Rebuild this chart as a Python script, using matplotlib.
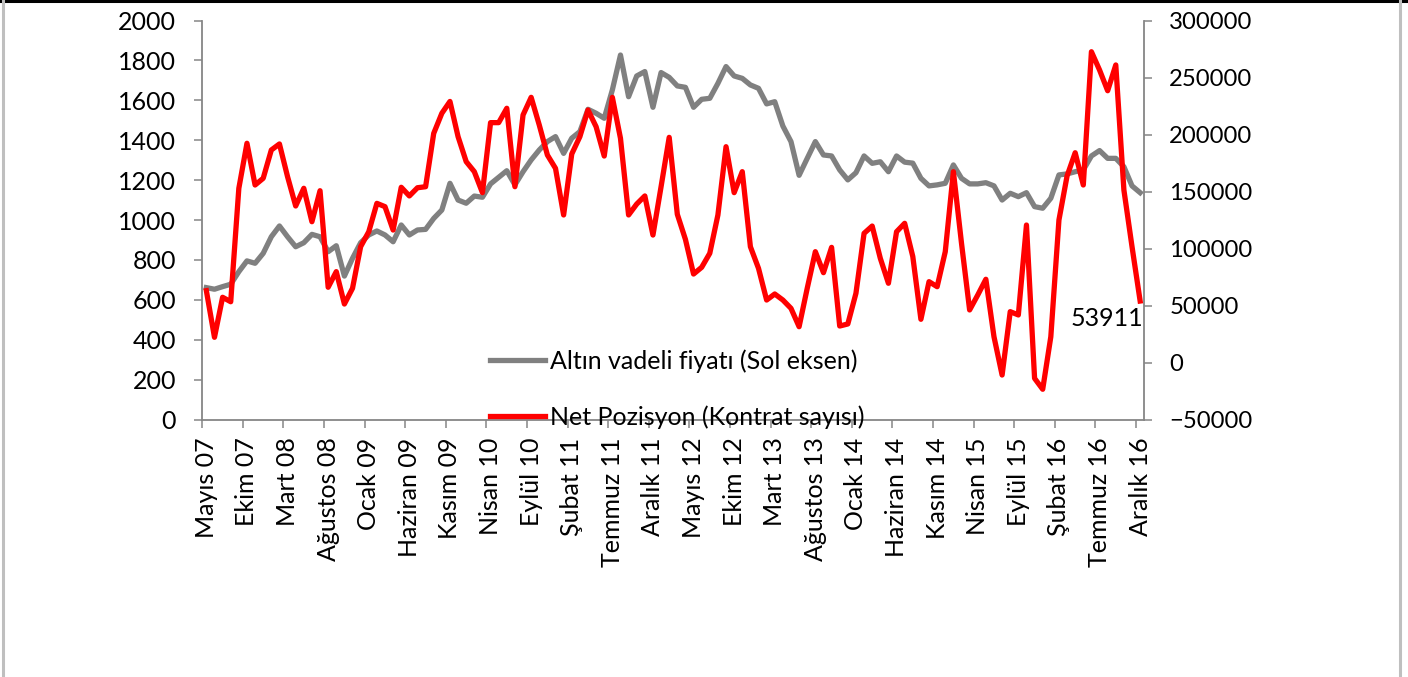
import matplotlib
matplotlib.use("Agg")
import matplotlib.pyplot as plt
from matplotlib.lines import Line2D
import numpy as np

plt.rcParams['font.family'] = ['Lato', 'DejaVu Sans']

tick_labels = ["Mayıs 07", "Ekim 07", "Mart 08", "Ağustos 08", "Ocak 09", "Haziran 09",
               "Kasım 09", "Nisan 10", "Eylül 10", "Şubat 11", "Temmuz 11", "Aralık 11",
               "Mayıs 12", "Ekim 12", "Mart 13", "Ağustos 13", "Ocak 14", "Haziran 14",
               "Kasım 14", "Nisan 15", "Eylül 15", "Şubat 16", "Temmuz 16", "Aralık 16"]

gold = [661, 653, 666, 678, 741, 795, 783, 833, 916, 970,
        916, 866, 886, 928, 916, 841, 871, 719, 808, 886,
        925, 945, 925, 891, 975, 925, 950, 953, 1008, 1050,
        1184, 1100, 1084, 1120, 1114, 1181, 1214, 1247, 1176, 1242,
        1301, 1351, 1393, 1418, 1334, 1410, 1443, 1555, 1535, 1510,
        1652, 1827, 1618, 1722, 1744, 1565, 1739, 1715, 1672, 1665,
        1565, 1605, 1610, 1685, 1769, 1722, 1710, 1677, 1660, 1582,
        1593, 1471, 1393, 1224, 1309, 1393, 1326, 1321, 1251, 1201,
        1237, 1321, 1284, 1292, 1242, 1321, 1290, 1285,
        1209, 1171, 1176, 1184, 1276, 1209, 1181, 1181, 1187, 1171,
        1100, 1134, 1117, 1137, 1067, 1059, 1109, 1226, 1231, 1242,
        1251, 1321, 1348, 1309, 1309, 1267, 1171, 1137]

net = [63000, 22100, 57200, 53300, 152800, 192300, 155700, 161600, 186400, 191700,
       163000, 137300, 152800, 123500, 150700, 66000, 79700, 51300, 65100, 101600,
       114700, 139600, 136700, 116200, 153700, 146100, 153300, 154200, 201000, 218600,
       229000, 198100, 176200, 167400, 149000, 210400, 210400, 223000, 154200, 217100,
       232600, 208300, 182000, 170300, 129400, 182900, 198100, 221500, 206800, 181100,
       232600, 196700, 129400, 139000, 146100, 111800, 154200, 197500, 130000, 108000,
       77600, 83500, 95800, 129400, 189300, 149000, 167400, 101600, 82600, 54800,
       60100, 54800, 47500, 31400, 65100, 97200, 78800, 101000, 32000, 33800,
       60700, 113300, 119700, 91400, 69500, 114700, 122100, 93000,
       37900, 70900, 66500, 97200, 167400, 104600, 46100, 59200, 73000, 22600,
       -11000, 44600, 41700, 120600, -13900, -23500, 22600, 125000, 163600, 184000,
       155700, 272600, 256600, 238400, 261000, 151300, 101600, 53911]

W, H = 1408, 677
fig = plt.figure(figsize=(W / 100, H / 100), dpi=100)
fig.patch.set_facecolor('white')

L, R, T, B = 202.3, 1144.2, 20.5, 419.5
ax = fig.add_axes([L / W, 1 - B / H, (R - L) / W, (B - T) / H])
ax2 = ax.twinx()

x = np.arange(len(gold))
axis_gray = '#868686'
fs = 18

ax.plot(x, gold, color='#808080', lw=3.8, solid_joinstyle='round', label='Altın vadeli fiyatı (Sol eksen)')
ax2.plot(x, net, color='#FF0000', lw=3.8, solid_joinstyle='round', label='Net Pozisyon (Kontrat sayısı)')

ax.set_xlim(-0.5, len(gold) - 0.5)
ax.set_ylim(0, 2000)
ax2.set_ylim(-50000, 300000)
ax.set_yticks(np.arange(0, 2001, 200))
ax2.set_yticks(np.arange(-50000, 300001, 50000))

ax.set_xticks(np.arange(0, len(gold), 5))
ax.set_xticklabels(tick_labels, rotation=90, fontsize=fs)
ax.set_xticks(np.arange(-0.5, len(gold), 5), minor=True)
ax.tick_params(axis='x', which='major', length=0, pad=13)
ax.tick_params(axis='x', which='minor', length=6, width=1.1, color=axis_gray, direction='out')
ax.tick_params(axis='y', which='major', length=6, width=1.1, color=axis_gray, direction='out',
               labelsize=fs, pad=13)
ax2.tick_params(axis='y', which='major', length=6, width=1.1, color=axis_gray, direction='out',
                labelsize=17.2, pad=12)

for s in ['top', 'right']:
    ax.spines[s].set_visible(False)
for s in ['top', 'left', 'bottom']:
    ax2.spines[s].set_visible(False)
ax.spines['left'].set_color(axis_gray)
ax.spines['bottom'].set_color(axis_gray)
ax2.spines['right'].set_color(axis_gray)
for sp in [ax.spines['left'], ax.spines['bottom'], ax2.spines['right']]:
    sp.set_linewidth(1.3)

ax2.annotate(f"{net[-1]}", xy=(x[-1], net[-1]), xytext=(3, -6), textcoords='offset pixels',
             ha='right', va='top', fontsize=fs)

handles = [Line2D([], [], color='#808080', lw=3.8),
           Line2D([], [], color='#FF0000', lw=3.8)]
labels = ['Altın vadeli fiyatı (Sol eksen)', 'Net Pozisyon (Kontrat sayısı)']
leg = fig.legend(handles, labels, loc='center left', bbox_to_anchor=(490 / W, 1 - 389 / H),
                 frameon=False, fontsize=fs, borderpad=0, borderaxespad=0,
                 handlelength=2.2, handletextpad=0.2, labelspacing=1.3)

# outer frame lines
fig.add_artist(Line2D([0, 1], [1 - 1 / H, 1 - 1 / H], transform=fig.transFigure, color='black', lw=2.2))
fig.add_artist(Line2D([3 / W, 3 / W], [0, 1], transform=fig.transFigure, color='#BFBFBF', lw=2.2))
fig.add_artist(Line2D([1400 / W, 1400 / W], [0, 1], transform=fig.transFigure, color='#BFBFBF', lw=2.2))

fig.savefig('out.png', dpi=100)
